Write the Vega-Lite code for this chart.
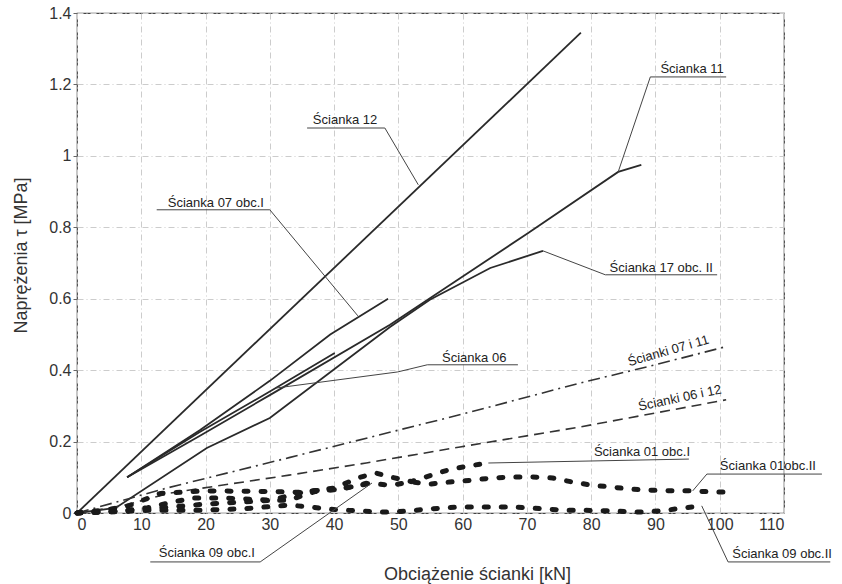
{
  "$schema": "https://vega.github.io/schema/vega-lite/v6.json",
  "autosize": {"type": "none"},
  "width": 707,
  "height": 500,
  "padding": {"left": 77, "top": 13, "right": 58, "bottom": 71},
  "background": "white",
  "config": {
    "view": {"stroke": "#444", "strokeWidth": 1.2},
    "font": "Liberation Sans"
  },
  "datasets": {
    "solid": [
      {"s": "12", "x": 0, "y": 0},
      {"s": "12", "x": 78.4, "y": 1.345},
      {"s": "11", "x": 7.8, "y": 0.1},
      {"s": "11", "x": 19, "y": 0.215},
      {"s": "11", "x": 30, "y": 0.33},
      {"s": "11", "x": 48.7, "y": 0.527},
      {"s": "11", "x": 70.2, "y": 0.784},
      {"s": "11", "x": 84.2, "y": 0.955},
      {"s": "11", "x": 87.8, "y": 0.975},
      {"s": "07", "x": 7.8, "y": 0.1},
      {"s": "07", "x": 19.1, "y": 0.232},
      {"s": "07", "x": 30, "y": 0.37},
      {"s": "07", "x": 39.4, "y": 0.5},
      {"s": "07", "x": 48.4, "y": 0.6},
      {"s": "06", "x": 7.8, "y": 0.1},
      {"s": "06", "x": 19.1, "y": 0.227},
      {"s": "06", "x": 30, "y": 0.34},
      {"s": "06", "x": 40.1, "y": 0.448},
      {"s": "17", "x": 0, "y": 0},
      {"s": "17", "x": 6, "y": 0.014},
      {"s": "17", "x": 20.2, "y": 0.182},
      {"s": "17", "x": 30, "y": 0.266},
      {"s": "17", "x": 48.7, "y": 0.521},
      {"s": "17", "x": 54.9, "y": 0.597},
      {"s": "17", "x": 64.3, "y": 0.686},
      {"s": "17", "x": 72.5, "y": 0.734}
    ],
    "dashdot": [
      {"x": 0, "y": 0},
      {"x": 14, "y": 0.07},
      {"x": 33, "y": 0.155},
      {"x": 50, "y": 0.232},
      {"x": 60, "y": 0.277},
      {"x": 78.3, "y": 0.364},
      {"x": 90, "y": 0.415},
      {"x": 100.8, "y": 0.465}
    ],
    "dashed": [
      {"x": 0, "y": 0},
      {"x": 7, "y": 0.02},
      {"x": 14.5, "y": 0.056},
      {"x": 33, "y": 0.106},
      {"x": 45, "y": 0.14},
      {"x": 59.6, "y": 0.185},
      {"x": 78.3, "y": 0.241},
      {"x": 90, "y": 0.28},
      {"x": 101, "y": 0.317}
    ],
    "dotted": [
      {"s": "01I", "x": 0, "y": 0},
      {"s": "01I", "x": 5, "y": 0.01},
      {"s": "01I", "x": 8, "y": 0.02},
      {"s": "01I", "x": 13, "y": 0.055},
      {"s": "01I", "x": 20, "y": 0.062},
      {"s": "01I", "x": 30, "y": 0.06},
      {"s": "01I", "x": 35, "y": 0.058},
      {"s": "01I", "x": 40, "y": 0.07},
      {"s": "01I", "x": 44, "y": 0.1},
      {"s": "01I", "x": 46.5, "y": 0.112},
      {"s": "01I", "x": 49, "y": 0.1},
      {"s": "01I", "x": 52, "y": 0.088},
      {"s": "01I", "x": 55, "y": 0.105},
      {"s": "01I", "x": 58, "y": 0.122},
      {"s": "01I", "x": 61, "y": 0.132},
      {"s": "01I", "x": 64, "y": 0.14},
      {"s": "09I", "x": 0, "y": 0},
      {"s": "09I", "x": 7, "y": 0.005},
      {"s": "09I", "x": 11, "y": 0.015},
      {"s": "09I", "x": 15, "y": 0.031},
      {"s": "09I", "x": 18, "y": 0.042},
      {"s": "09I", "x": 23, "y": 0.042},
      {"s": "09I", "x": 30, "y": 0.036},
      {"s": "09I", "x": 33, "y": 0.036},
      {"s": "09I", "x": 37, "y": 0.06},
      {"s": "09I", "x": 41, "y": 0.068},
      {"s": "09I", "x": 46, "y": 0.084},
      {"s": "01II", "x": 0, "y": 0},
      {"s": "01II", "x": 10, "y": 0.01},
      {"s": "01II", "x": 20, "y": 0.025},
      {"s": "01II", "x": 30, "y": 0.035},
      {"s": "01II", "x": 36, "y": 0.062},
      {"s": "01II", "x": 41, "y": 0.066},
      {"s": "01II", "x": 45, "y": 0.083},
      {"s": "01II", "x": 49, "y": 0.078},
      {"s": "01II", "x": 52, "y": 0.087},
      {"s": "01II", "x": 55, "y": 0.081},
      {"s": "01II", "x": 58, "y": 0.087},
      {"s": "01II", "x": 61.5, "y": 0.092},
      {"s": "01II", "x": 64.6, "y": 0.098},
      {"s": "01II", "x": 67.8, "y": 0.101},
      {"s": "01II", "x": 70.8, "y": 0.101},
      {"s": "01II", "x": 74, "y": 0.098},
      {"s": "01II", "x": 77, "y": 0.087},
      {"s": "01II", "x": 80, "y": 0.078},
      {"s": "01II", "x": 83, "y": 0.073},
      {"s": "01II", "x": 86, "y": 0.067},
      {"s": "01II", "x": 89, "y": 0.064},
      {"s": "01II", "x": 92.3, "y": 0.062},
      {"s": "01II", "x": 95.7, "y": 0.062},
      {"s": "01II", "x": 98.8, "y": 0.059},
      {"s": "01II", "x": 101.6, "y": 0.059},
      {"s": "09II", "x": 0, "y": 0},
      {"s": "09II", "x": 8, "y": 0.005},
      {"s": "09II", "x": 12, "y": 0.008},
      {"s": "09II", "x": 20, "y": 0.008},
      {"s": "09II", "x": 26, "y": 0.012},
      {"s": "09II", "x": 30, "y": 0.018},
      {"s": "09II", "x": 33, "y": 0.022},
      {"s": "09II", "x": 36.3, "y": 0.017},
      {"s": "09II", "x": 39, "y": 0.011},
      {"s": "09II", "x": 41.4, "y": 0.008},
      {"s": "09II", "x": 44, "y": 0.006},
      {"s": "09II", "x": 46.7, "y": 0.003},
      {"s": "09II", "x": 49.2, "y": 0.003},
      {"s": "09II", "x": 52, "y": 0.006},
      {"s": "09II", "x": 54.5, "y": 0.011},
      {"s": "09II", "x": 57, "y": 0.014},
      {"s": "09II", "x": 59.6, "y": 0.017},
      {"s": "09II", "x": 62.4, "y": 0.017},
      {"s": "09II", "x": 65, "y": 0.017},
      {"s": "09II", "x": 67.8, "y": 0.017},
      {"s": "09II", "x": 70.5, "y": 0.014},
      {"s": "09II", "x": 73.1, "y": 0.011},
      {"s": "09II", "x": 75.6, "y": 0.008},
      {"s": "09II", "x": 78.6, "y": 0.008},
      {"s": "09II", "x": 81, "y": 0.006},
      {"s": "09II", "x": 83.4, "y": 0.006},
      {"s": "09II", "x": 86, "y": 0.003},
      {"s": "09II", "x": 88.8, "y": 0.003},
      {"s": "09II", "x": 91.8, "y": 0.008},
      {"s": "09II", "x": 94.3, "y": 0.014},
      {"s": "09II", "x": 97.2, "y": 0.02}
    ],
    "leaders": [
      {"g": "L12", "k": 1, "x": 53.1, "y": 0.919},
      {"g": "L12", "k": 2, "x": 47.9, "y": 1.078},
      {"g": "L12", "k": 3, "x": 35.8, "y": 1.078},
      {"g": "L11", "k": 1, "x": 84.2, "y": 0.955},
      {"g": "L11", "k": 2, "x": 89.2, "y": 1.221},
      {"g": "L11", "k": 3, "x": 101, "y": 1.221},
      {"g": "L07", "k": 1, "x": 43.7, "y": 0.552},
      {"g": "L07", "k": 2, "x": 30, "y": 0.849},
      {"g": "L07", "k": 3, "x": 12.4, "y": 0.849},
      {"g": "L17", "k": 1, "x": 72.5, "y": 0.734},
      {"g": "L17", "k": 2, "x": 82.2, "y": 0.667},
      {"g": "L17", "k": 3, "x": 99.6, "y": 0.667},
      {"g": "L06", "k": 1, "x": 31, "y": 0.35},
      {"g": "L06", "k": 2, "x": 49.9, "y": 0.395},
      {"g": "L06", "k": 3, "x": 54.5, "y": 0.415},
      {"g": "L06", "k": 4, "x": 68.6, "y": 0.415},
      {"g": "L01I", "k": 1, "x": 64, "y": 0.14},
      {"g": "L01I", "k": 2, "x": 95.2, "y": 0.151},
      {"g": "L01II", "k": 1, "x": 95.8, "y": 0.062},
      {"g": "L01II", "k": 2, "x": 98, "y": 0.109},
      {"g": "L01II", "k": 3, "x": 115.9, "y": 0.109},
      {"g": "L09II", "k": 1, "x": 97.2, "y": 0.02},
      {"g": "L09II", "k": 2, "x": 101.3, "y": -0.137},
      {"g": "L09II", "k": 3, "x": 117.2, "y": -0.137},
      {"g": "L09I", "k": 1, "x": 45.9, "y": 0.084},
      {"g": "L09I", "k": 2, "x": 28.5, "y": -0.137},
      {"g": "L09I", "k": 3, "x": 11.4, "y": -0.137}
    ],
    "labels": [
      {"t": "Ścianka 12", "x": 41.7, "y": 1.09},
      {"t": "Ścianka 11", "x": 95.7, "y": 1.232},
      {"t": "Ścianka 07 obc.I", "x": 21.6, "y": 0.857},
      {"t": "Ścianka 17 obc. II", "x": 90.9, "y": 0.675},
      {"t": "Ścianka 06", "x": 61.8, "y": 0.423},
      {"t": "Ścianka 01 obc.I", "x": 87.9, "y": 0.16},
      {"t": "Ścianka 01obc.II", "x": 107.5, "y": 0.12},
      {"t": "Ścianka 09 obc.II", "x": 109.7, "y": -0.126},
      {"t": "Ścianka 09 obc.I", "x": 20.2, "y": -0.123}
    ],
    "rot1": [{"t": "Ścianki 07 i 11", "x": 92, "y": 0.454}],
    "rot2": [{"t": "Ścianki 06 i 12", "x": 93.8, "y": 0.322}]
  },
  "encoding": {
    "x": {
      "field": "x", "type": "quantitative",
      "scale": {"domain": [0, 110], "nice": false, "zero": false},
      "axis": {
        "values": [0, 10, 20, 30, 40, 50, 60, 70, 80, 90, 100, 110],
        "title": "Obciążenie ścianki [kN]",
        "titleFontSize": 18, "titleFontWeight": "normal", "titleColor": "#333",
        "titleX": 400, "titleY": 61, "titleAlign": "center", "titleBaseline": "middle",
        "labelFontSize": 16, "labelColor": "#333", "labelPadding": 3,
        "tickSize": 0, "domain": false,
        "grid": true, "gridColor": "#cccccc", "gridDash": [6, 3, 1, 3], "gridWidth": 1
      }
    },
    "y": {
      "field": "y", "type": "quantitative",
      "scale": {"domain": [0, 1.4], "nice": false, "zero": false},
      "axis": {
        "values": [0, 0.2, 0.4, 0.6, 0.8, 1, 1.2, 1.4],
        "format": "~g",
        "title": "Naprężenia τ [MPa]",
        "titleFontSize": 18, "titleFontWeight": "normal", "titleColor": "#333",
        "titleX": -56, "titleY": 242, "titleAngle": -90, "titleAlign": "center", "titleBaseline": "middle",
        "labelFontSize": 16, "labelColor": "#333", "labelPadding": 2,
        "tickSize": 4, "tickColor": "#666", "domain": false,
        "grid": true, "gridColor": "#cccccc", "gridDash": [6, 3, 1, 3], "gridWidth": 1
      }
    }
  },
  "layer": [
    {
      "data": {"name": "solid"},
      "mark": {"type": "line", "color": "#2a2a2a", "strokeWidth": 1.8},
      "encoding": {"detail": {"field": "s"}}
    },
    {
      "data": {"name": "dashdot"},
      "mark": {"type": "line", "color": "#333", "strokeWidth": 1.6, "strokeDash": [12, 5, 2, 5]},
      "encoding": {}
    },
    {
      "data": {"name": "dashed"},
      "mark": {"type": "line", "color": "#333", "strokeWidth": 1.6, "strokeDash": [10, 6]},
      "encoding": {}
    },
    {
      "data": {"name": "dotted"},
      "mark": {"type": "line", "color": "#1a1a1a", "strokeWidth": 5, "strokeDash": [4, 13], "strokeCap": "round"},
      "encoding": {"detail": {"field": "s"}}
    },
    {
      "data": {"name": "leaders"},
      "mark": {"type": "line", "color": "#444", "strokeWidth": 1},
      "encoding": {"detail": {"field": "g"}, "order": {"field": "k", "type": "quantitative"}}
    },
    {
      "data": {"name": "labels"},
      "mark": {"type": "text", "font": "Liberation Sans Narrow, Arial Narrow, Liberation Sans", "fontSize": 13, "color": "#222", "align": "center", "baseline": "alphabetic"},
      "encoding": {"text": {"field": "t"}}
    },
    {
      "data": {"name": "rot1"},
      "mark": {"type": "text", "font": "Liberation Sans Narrow, Arial Narrow, Liberation Sans", "fontSize": 13, "color": "#222", "align": "center", "baseline": "middle", "angle": -16},
      "encoding": {"text": {"field": "t"}}
    },
    {
      "data": {"name": "rot2"},
      "mark": {"type": "text", "font": "Liberation Sans Narrow, Arial Narrow, Liberation Sans", "fontSize": 13, "color": "#222", "align": "center", "baseline": "middle", "angle": -12},
      "encoding": {"text": {"field": "t"}}
    }
  ]
}
